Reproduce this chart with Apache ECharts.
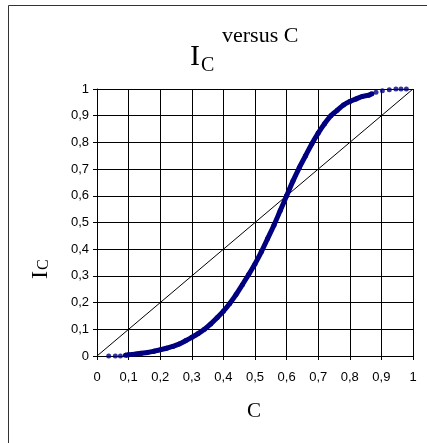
<!DOCTYPE html>
<html>
<head>
<meta charset="utf-8">
<script src="https://cdn.jsdelivr.net/npm/echarts@6/dist/echarts.min.js"></script>
<style>html,body{margin:0;padding:0;background:#fff}#c{width:427px;height:443px}</style>
</head>
<body>
<div id="c"></div>
<script>
// Dense part of the I_C versus C curve
var cDense = [0.09,0.10,0.12,0.14,0.16,0.18,0.20,0.22,0.24,0.26,0.28,0.30,0.32,0.34,0.36,0.38,0.40,0.42,0.44,0.46,0.48,0.50,0.52,0.54,0.56,0.58,0.60,0.62,0.64,0.66,0.68,0.70,0.72,0.74,0.76,0.78,0.80,0.82,0.84,0.86,0.87];
var iDense = [0.003,0.005,0.007,0.010,0.013,0.018,0.023,0.029,0.036,0.045,0.057,0.070,0.084,0.100,0.120,0.143,0.168,0.197,0.230,0.267,0.305,0.345,0.390,0.440,0.490,0.545,0.600,0.655,0.705,0.750,0.795,0.835,0.870,0.900,0.920,0.940,0.953,0.963,0.972,0.977,0.982];
// Sparse dots at the ends
var cSparse = [0.037,0.058,0.074,0.883,0.903,0.925,0.946,0.962,0.979];
var iSparse = [0,0,0,0.988,0.993,0.997,1.0,1.0,1.0];
// Reference diagonal
var cDiag = [0,1];
var iDiag = [0,1];

function pairs(a,b){return a.map(function(v,i){return [v,b[i]];});}
var fmt = function(v){return String(Math.round(v*10)/10).replace('.',',');};
var navy = '#000080';
var chart = echarts.init(document.getElementById('c'), null, {renderer:'canvas'});
chart.setOption({
  animation:false,
  backgroundColor:'#fff',
  grid:{left:97,right:14,top:89,bottom:87,containLabel:false},
  xAxis:{type:'value',min:0,max:1,interval:0.1,
    axisLine:{show:true,lineStyle:{color:'#000',width:1}},
    axisTick:{show:true,inside:false,length:4,lineStyle:{color:'#000'}},
    axisLabel:{formatter:fmt,color:'#000',fontFamily:'Arial',fontSize:13,margin:15},
    splitLine:{show:true,lineStyle:{color:'#000',width:1}}},
  yAxis:{type:'value',min:0,max:1,interval:0.1,
    axisLine:{show:true,lineStyle:{color:'#000',width:1}},
    axisTick:{show:true,inside:false,length:4,lineStyle:{color:'#000'}},
    axisLabel:{formatter:fmt,color:'#000',fontFamily:'Arial',fontSize:13,margin:8},
    splitLine:{show:true,lineStyle:{color:'#000',width:1}}},
  graphic:[
    {type:'rect',shape:{x:8.5,y:5.5,width:440,height:460},style:{fill:'none',stroke:'#333',lineWidth:1},z:-10},
    {type:'text',left:190,top:42,style:{text:'I',font:'30px "Liberation Serif", serif',fill:'#000'}},
    {type:'text',left:201,top:56,style:{text:'C',font:'20px "Liberation Serif", serif',fill:'#000'}},
    {type:'text',left:222,top:25,style:{text:'versus C',font:'22px "Liberation Serif", serif',fill:'#000'}},
    {type:'text',left:247,top:401,style:{text:'C',font:'21px "Liberation Serif", serif',fill:'#000'}},
    {type:'group',x:29,y:279,rotation:Math.PI/2,children:[
      {type:'text',x:0,y:0,style:{text:'I',font:'24px "Liberation Serif", serif',fill:'#000'}},
      {type:'text',x:9,y:7,style:{text:'C',font:'16px "Liberation Serif", serif',fill:'#000'}}
    ]}
  ],
  series:[
    {type:'line',data:pairs(cDiag,iDiag),symbol:'none',lineStyle:{color:'#000',width:1},z:2},
    {type:'line',data:pairs(cDense,iDense),symbol:'circle',symbolSize:5,smooth:0.3,showAllSymbol:true,
      itemStyle:{color:navy},lineStyle:{color:navy,width:5},z:3},
    {type:'scatter',data:pairs(cSparse,iSparse),symbol:'circle',symbolSize:5,itemStyle:{color:navy},z:3}
  ]
});
</script>
</body>
</html>
